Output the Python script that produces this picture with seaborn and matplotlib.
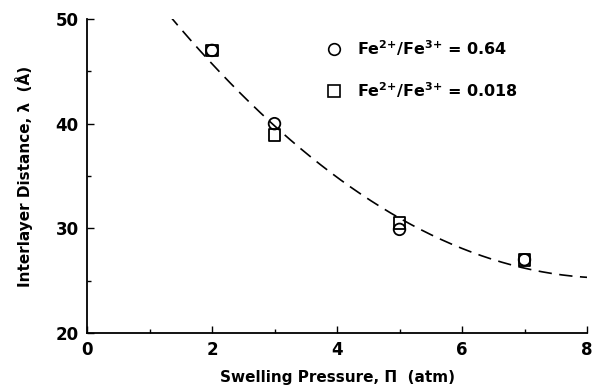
import numpy as np
import pandas as pd
import matplotlib
matplotlib.use("Agg")
import matplotlib.pyplot as plt
import seaborn as sns

# Swelling pressure (atm) and interlayer distance (Å)
pressure = [2, 3, 5, 7]
dist_064 = [47.0, 40.0, 29.9, 27.0]    # Fe2+/Fe3+ = 0.64
dist_0018 = [47.0, 38.9, 30.5, 27.0]   # Fe2+/Fe3+ = 0.018
labels = [r"Fe$^{2{+}}$/Fe$^{3{+}}$ = 0.64", r"Fe$^{2{+}}$/Fe$^{3{+}}$ = 0.018"]

# fitted curve d = c0 + c1*P + c2*P^2
fit_coef = [60.6, -8.45, 0.505]

df = pd.DataFrame({
    "P": pressure * 2,
    "d": dist_064 + dist_0018,
    "ratio": [labels[0]] * len(pressure) + [labels[1]] * len(pressure),
})

sns.set_style("ticks")
plt.rcParams["font.family"] = ["DejaVu Sans"]
plt.rcParams["font.weight"] = "bold"
plt.rcParams["mathtext.default"] = "regular"
plt.rcParams["text.color"] = "black"
plt.rcParams["axes.labelcolor"] = "black"

fig = plt.figure(figsize=(5.94, 3.92), dpi=100)
ax = fig.add_axes([87 / 594, 59 / 392, 500 / 594, 314 / 392])

p_grid = np.linspace(0, 8, 200)
fit_df = pd.DataFrame({"P": p_grid,
                       "d": np.polyval(fit_coef[::-1], p_grid)})
sns.lineplot(data=fit_df, x="P", y="d", color="black", lw=1.2,
             dashes=False, ax=ax).lines[0].set_dashes((8, 4.5))

sns.scatterplot(data=df, x="P", y="d", hue="ratio", style="ratio",
                markers={labels[0]: "o", labels[1]: "s"},
                palette={labels[0]: "black", labels[1]: "black"},
                s=70, linewidth=1.3, ax=ax, legend=True)
for coll in ax.collections:
    coll.set_edgecolor("black")
    coll.set_facecolor("none")

ax.set_xlim(0, 8)
ax.set_ylim(20, 50)
ax.set_xticks([0, 2, 4, 6, 8])
ax.set_yticks([20, 30, 40, 50])
ax.set_xticks([1, 3, 5, 7], minor=True)
ax.set_yticks([25, 35, 45], minor=True)
ax.tick_params(which="both", direction="in", width=1, colors="black")
ax.tick_params(which="major", length=5, labelsize=12, pad=6)
ax.tick_params(which="minor", length=3)
for lab in ax.get_xticklabels() + ax.get_yticklabels():
    lab.set_fontweight("bold")
sns.despine(ax=ax)
for sp in ("left", "bottom"):
    ax.spines[sp].set_linewidth(1.3)
    ax.spines[sp].set_color("black")

ax.set_xlabel("Swelling Pressure, Π  (atm)", fontsize=11, fontweight="bold", labelpad=8)
ax.set_ylabel("Interlayer Distance, λ  (Å)", fontsize=11, fontweight="bold", labelpad=16)

leg = ax.legend(loc="upper left", bbox_to_anchor=(0.45, 0.96), frameon=False,
                fontsize=11.5, handletextpad=0.4, labelspacing=1.4, borderaxespad=0)
for h in leg.legend_handles:
    h.set_markerfacecolor("none")
    h.set_markeredgecolor("black")
    h.set_markeredgewidth(1.2)
for t in leg.get_texts():
    t.set_fontweight("bold")
    t.set_color("black")

fig.savefig("out.png", dpi=100)
